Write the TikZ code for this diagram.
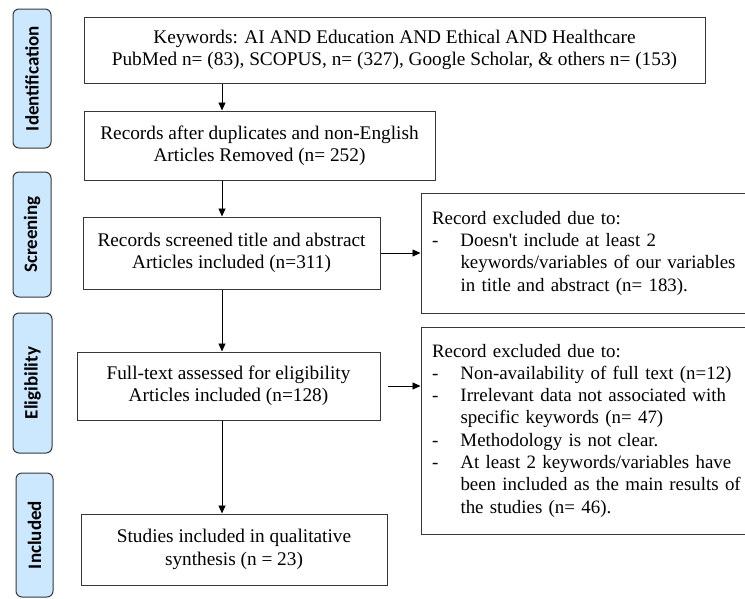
\documentclass[tikz,border=0pt]{standalone}
\usepackage{fontspec}
\setmainfont{Liberation Serif}
\newfontfamily\labfont{Carlito}
\usetikzlibrary{arrows.meta}
\definecolor{labfill}{RGB}{204,232,255}
\definecolor{edge}{RGB}{55,55,55}
\tikzset{
  flowbox/.style={draw=edge, line width=1pt, align=center, inner sep=0pt,
    font=\fontsize{19.3}{22.3}\selectfont},
  exbox/.style={draw=edge, line width=1pt, align=left, inner xsep=11pt, inner ysep=0pt,
    text width=330pt, font=\fontsize{18.9}{22.3}\selectfont},
  stagebox/.style={draw=edge, line width=1pt, rounded corners=6pt, fill=labfill,
    rotate=90, inner sep=0pt, font=\labfont\bfseries\fontsize{19}{22}\selectfont},
  flowarrow/.style={draw=black, line width=0.9pt, -{Triangle[length=8pt,width=7pt]}}
}
\newcommand{\dashitem}{\makebox[28.5pt][l]{-}}
\newcommand{\contitem}{\hspace*{28.5pt}}
\begin{document}
\begin{tikzpicture}[x=1pt,y=-1pt]
\useasboundingbox (0,0) rectangle (745,598);
% stage labels
\node[stagebox, minimum width=139pt, minimum height=38pt] (id) at (32,78.5) {Identification};
\node[stagebox, minimum width=125pt, minimum height=38pt] (sc) at (32,234.5) {Screening};
\node[stagebox, minimum width=140pt, minimum height=39pt] (el) at (32.5,383) {Eligibility};
\node[stagebox, minimum width=124pt, minimum height=37pt] (in) at (34.5,535) {Included};
% main flow
\node[flowbox, minimum width=621pt, minimum height=66pt] (k) at (394.5,50)
  {Keywords: AI AND Education AND Ethical AND Healthcare\\PubMed n= (83), SCOPUS, n= (327), Google Scholar, \& others n= (153)};
\node[flowbox, minimum width=351pt, minimum height=69pt] (r) at (259.5,145.5)
  {Records after duplicates and non-English\\Articles Removed (n= 252)};
\node[flowbox, minimum width=297pt, minimum height=72pt] (s) at (231.5,253)
  {Records screened title and abstract\\Articles included (n=311)};
\node[flowbox, minimum width=303pt, minimum height=68pt] (f) at (228.5,386)
  {Full-text assessed for eligibility\\Articles included (n=128)};
\node[flowbox, minimum width=306pt, minimum height=71pt] (q) at (234,549.5)
  {Studies included in qualitative\\synthesis (n = 23)};
% exclusion boxes (right side runs past the page edge)
\node[exbox, minimum height=120pt] (e1) at (597,253)
  {Record excluded due to:\\
   \dashitem Doesn\textquotesingle t include at least 2\\
   \contitem keywords/variables of our variables\\
   \contitem in title and abstract (n= 183).};
\node[exbox, minimum height=207pt] (e2) at (597,430.5)
  {Record excluded due to:\\
   \dashitem Non-availability of full text (n=12)\\
   \dashitem Irrelevant data not associated with\\
   \contitem specific keywords (n= 47)\\
   \dashitem Methodology is not clear.\\
   \dashitem At least 2 keywords/variables have\\
   \contitem been included as the main results of\\
   \contitem the studies (n= 46).};
% connectors
\coordinate (ax) at (222,0);
\draw[flowarrow] (k.south -| ax) -- (r.north -| ax);
\draw[flowarrow] (r.south -| ax) -- (s.north -| ax);
\draw[flowarrow] (s.south -| ax) -- (f.north -| ax);
\draw[flowarrow] (f.south -| ax) -- (q.north -| ax);
\draw[flowarrow] (s.east) -- (e1.west |- s.east);
\draw[flowarrow, shorten <=7pt] (f.east) -- (e2.west |- f.east);
\end{tikzpicture}
\end{document}
